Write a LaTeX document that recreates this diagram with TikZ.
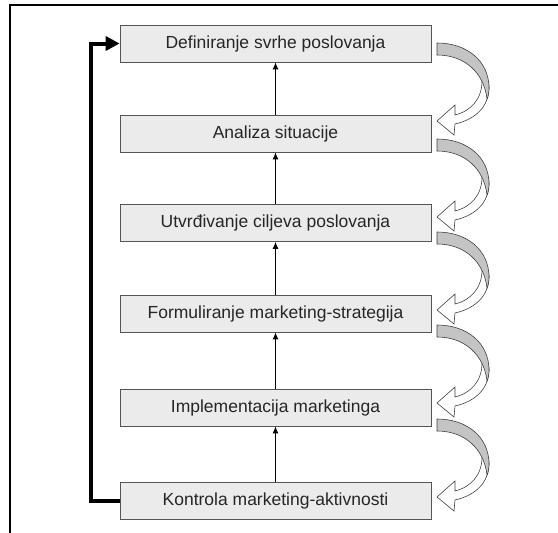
\documentclass[tikz,border=0pt]{standalone}
\usepackage{fontspec}
\setmainfont{Liberation Sans}
\usepackage{tikz}
\usetikzlibrary{arrows.meta}

\definecolor{okvir}{HTML}{555555}
\definecolor{pozadina}{HTML}{EBEBEB}
\definecolor{siva}{HTML}{C4C4C4}

\tikzset{
  korak/.style={draw=okvir, fill=pozadina, line width=0.8pt, minimum width=311pt,
    minimum height=37pt, inner sep=0pt, text=black!85,
    font=\fontsize{17.5}{20}\selectfont},
  strelica/.style={line width=0.9pt, -{Latex[length=7pt,width=6pt]}},
  povrat/.style={line width=4pt, -{Triangle[length=14pt,width=14pt]}}
}

% zakrivljena strelica desno od kutija
\newcommand{\zavoj}[2]{%
  \begin{scope}[shift={(#1,#2)}]
    \filldraw[fill=white, draw=black!75, line width=0.6pt]
      (52,42) .. controls (53,62) and (40,76) .. (18,81) -- (17,92) -- (0,78)
      -- (18,62) -- (18,72) .. controls (34,68) and (45,56) .. (45,38) -- cycle;
    \filldraw[fill=siva, draw=black!75, line width=0.6pt]
      (0,0) .. controls (30,0) and (52,18) .. (52,45)
      .. controls (52,50) and (51,54) .. (50,56)
      .. controls (47,30) and (28,12) .. (0,12) -- cycle;
  \end{scope}}

\begin{document}
\begin{tikzpicture}[x=1pt, y=-1pt]
\useasboundingbox (0,0) rectangle (558,533);
\draw[line width=2pt] (10,533) -- (10,5) -- (558,5);

\node[korak] (definiranje) at (275.5,43.5) {Definiranje svrhe poslovanja};
\node[korak] (analiza) at (275.5,133.5) {Analiza situacije};
\node[korak] (utvrdjivanje) at (275.5,223) {Utvrđivanje ciljeva poslovanja};
\node[korak] (formuliranje) at (275.5,313.5) {Formuliranje marketing-strategija};
\node[korak] (implementacija) at (275.5,407.5) {Implementacija marketinga};
\node[korak] (kontrola) at (275.5,501) {Kontrola marketing-aktivnosti};

\draw[strelica] (analiza) -- (definiranje);
\draw[strelica] (utvrdjivanje) -- (analiza);
\draw[strelica] (formuliranje) -- (utvrdjivanje);
\draw[strelica] (implementacija) -- (formuliranje);
\draw[strelica] (kontrola) -- (implementacija);

\draw[povrat] (kontrola.west) -- ++(-29,0) |- (definiranje.west);

\zavoj{437}{43}
\zavoj{437}{139}
\zavoj{437}{232}
\zavoj{437}{325}
\zavoj{437}{419}
\end{tikzpicture}
\end{document}
